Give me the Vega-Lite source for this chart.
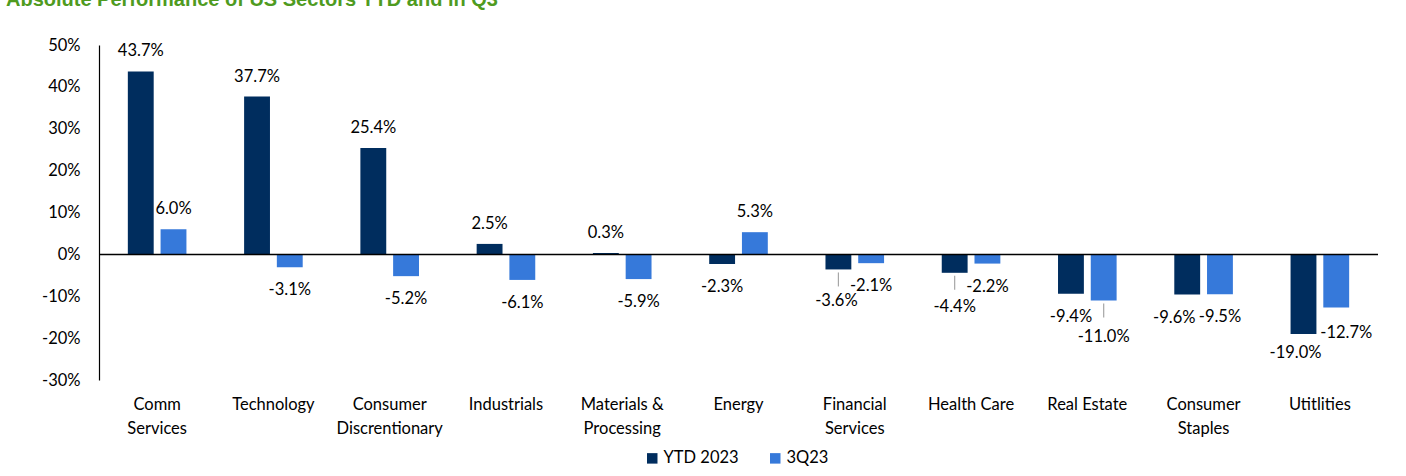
{
  "$schema": "https://vega.github.io/schema/vega-lite/v6.json",
  "width": 1279,
  "height": 335,
  "autosize": {"type": "none"},
  "padding": {"left": 99, "top": 45, "right": 28, "bottom": 96},
  "background": "white",
  "title": {
    "text": "Absolute Performance of US Sectors YTD and in Q3",
    "anchor": "start",
    "frame": "group",
    "font": "Liberation Sans",
    "fontSize": 20,
    "fontWeight": "bold",
    "color": "#4F9B1F",
    "baseline": "alphabetic",
    "offset": 28,
    "dy": 17,
    "dx": -93
  },
  "config": {
    "view": {"stroke": null},
    "font": "Lato",
    "locale": {"number": {"decimal": ".", "thousands": ",", "grouping": [3], "currency": ["$", ""], "minus": "-"}},
    "text": {"font": "Lato", "fontSize": 16.5, "color": "#000"}
  },
  "data": {
    "values": [
      {"sector": "Comm Services", "series": "YTD 2023", "value": 0.437},
      {"sector": "Comm Services", "series": "3Q23", "value": 0.060},
      {"sector": "Technology", "series": "YTD 2023", "value": 0.377},
      {"sector": "Technology", "series": "3Q23", "value": -0.031},
      {"sector": "Consumer Discrentionary", "series": "YTD 2023", "value": 0.254},
      {"sector": "Consumer Discrentionary", "series": "3Q23", "value": -0.052},
      {"sector": "Industrials", "series": "YTD 2023", "value": 0.025},
      {"sector": "Industrials", "series": "3Q23", "value": -0.061},
      {"sector": "Materials & Processing", "series": "YTD 2023", "value": 0.003},
      {"sector": "Materials & Processing", "series": "3Q23", "value": -0.059},
      {"sector": "Energy", "series": "YTD 2023", "value": -0.023},
      {"sector": "Energy", "series": "3Q23", "value": 0.053},
      {"sector": "Financial Services", "series": "YTD 2023", "value": -0.036},
      {"sector": "Financial Services", "series": "3Q23", "value": -0.021},
      {"sector": "Health Care", "series": "YTD 2023", "value": -0.044},
      {"sector": "Health Care", "series": "3Q23", "value": -0.022},
      {"sector": "Real Estate", "series": "YTD 2023", "value": -0.094},
      {"sector": "Real Estate", "series": "3Q23", "value": -0.110},
      {"sector": "Consumer Staples", "series": "YTD 2023", "value": -0.096},
      {"sector": "Consumer Staples", "series": "3Q23", "value": -0.095},
      {"sector": "Utitlities", "series": "YTD 2023", "value": -0.190},
      {"sector": "Utitlities", "series": "3Q23", "value": -0.127}
    ]
  },
  "encoding": {
    "x": {
      "field": "sector",
      "type": "nominal",
      "sort": null,
      "scale": {"paddingInner": 0.496, "paddingOuter": 0.248},
      "axis": {
        "title": null,
        "orient": "bottom",
        "domain": false,
        "ticks": false,
        "labelAngle": 0,
        "labelPadding": 16,
        "labelFont": "Lato",
        "labelFontSize": 16.5,
        "labelColor": "#000",
        "labelLineHeight": 24,
        "labelLimit": 300,
        "labelExpr": "datum.value == 'Materials & Processing' ? ['Materials &', 'Processing'] : (datum.value == 'Health Care' || datum.value == 'Real Estate') ? datum.value : split(datum.value, ' ')"
      }
    },
    "xOffset": {
      "field": "series",
      "type": "nominal",
      "sort": ["YTD 2023", "3Q23"],
      "scale": {"paddingInner": 0.21, "paddingOuter": 0}
    },
    "y": {
      "field": "value",
      "type": "quantitative",
      "scale": {"domain": [-0.3, 0.5], "nice": false, "zero": false},
      "axis": {
        "title": null,
        "values": [-0.3, -0.2, -0.1, 0, 0.1, 0.2, 0.3, 0.4, 0.5],
        "format": ".0%",
        "grid": false,
        "ticks": false,
        "domain": true,
        "domainColor": "#000",
        "domainWidth": 1.2,
        "labelPadding": 19,
        "labelFont": "Lato",
        "labelFontSize": 16.5,
        "labelColor": "#000"
      }
    }
  },
  "layer": [
    {
      "mark": {"type": "bar"},
      "encoding": {
        "color": {
          "field": "series",
          "type": "nominal",
          "sort": ["YTD 2023", "3Q23"],
          "scale": {"domain": ["YTD 2023", "3Q23"], "range": ["#002D5E", "#3679DA"]},
          "legend": {
            "title": null,
            "orient": "none",
            "legendX": 545,
            "legendY": 405,
            "direction": "horizontal",
            "symbolType": "square",
            "symbolSize": 110,
            "symbolStrokeWidth": 0,
            "labelFont": "Lato",
            "labelFontSize": 16.5,
            "labelColor": "#000",
            "labelOffset": 3,
            "columnPadding": 28
          }
        }
      }
    },
    {
      "data": {"values": [{"zero": 0}]},
      "mark": {"type": "rule", "color": "#000", "strokeWidth": 1.5},
      "encoding": {"y": {"field": "zero", "type": "quantitative"}, "x": null, "xOffset": null}
    },
    {
      "transform": [{"filter": "(datum.sector == 'Financial Services' && datum.series == 'YTD 2023') || (datum.sector == 'Health Care' && datum.series == 'YTD 2023') || (datum.sector == 'Real Estate' && datum.series == '3Q23')"}],
      "mark": {"type": "rule", "color": "#A6A6A6", "strokeWidth": 1.2, "yOffset": 3, "y2Offset": 17},
      "encoding": {"y2": {"field": "value"}}
    },
    {
      "transform": [{"filter": "datum.value >= 0"}],
      "mark": {"type": "text", "baseline": "middle", "dy": -20},
      "encoding": {"text": {"field": "value", "type": "quantitative", "format": ".1%"}}
    },
    {
      "transform": [{"filter": "datum.value < 0 && !(datum.series == 'YTD 2023' && (datum.sector == 'Financial Services' || datum.sector == 'Health Care' || datum.sector == 'Consumer Staples' || datum.sector == 'Utitlities')) && !(datum.series == '3Q23' && (datum.sector == 'Real Estate' || datum.sector == 'Utitlities'))"}],
      "mark": {"type": "text", "baseline": "middle", "dy": 23},
      "encoding": {"text": {"field": "value", "type": "quantitative", "format": ".1%"}}
    },
    {
      "transform": [{"filter": "datum.series == 'YTD 2023' && datum.sector == 'Financial Services'"}],
      "mark": {"type": "text", "baseline": "middle", "dy": 32, "dx": -2},
      "encoding": {"text": {"field": "value", "type": "quantitative", "format": ".1%"}}
    },
    {
      "transform": [{"filter": "datum.series == 'YTD 2023' && datum.sector == 'Health Care'"}],
      "mark": {"type": "text", "baseline": "middle", "dy": 34},
      "encoding": {"text": {"field": "value", "type": "quantitative", "format": ".1%"}}
    },
    {
      "transform": [{"filter": "datum.series == '3Q23' && datum.sector == 'Real Estate'"}],
      "mark": {"type": "text", "baseline": "middle", "dy": 37},
      "encoding": {"text": {"field": "value", "type": "quantitative", "format": ".1%"}}
    },
    {
      "transform": [{"filter": "datum.series == 'YTD 2023' && datum.sector == 'Consumer Staples'"}],
      "mark": {"type": "text", "baseline": "middle", "dy": 23, "dx": -13},
      "encoding": {"text": {"field": "value", "type": "quantitative", "format": ".1%"}}
    },
    {
      "transform": [{"filter": "datum.series == 'YTD 2023' && datum.sector == 'Utitlities'"}],
      "mark": {"type": "text", "baseline": "middle", "dy": 19, "dx": -8},
      "encoding": {"text": {"field": "value", "type": "quantitative", "format": ".1%"}}
    },
    {
      "transform": [{"filter": "datum.series == '3Q23' && datum.sector == 'Utitlities'"}],
      "mark": {"type": "text", "baseline": "middle", "dy": 25, "dx": 10},
      "encoding": {"text": {"field": "value", "type": "quantitative", "format": ".1%"}}
    }
  ]
}
